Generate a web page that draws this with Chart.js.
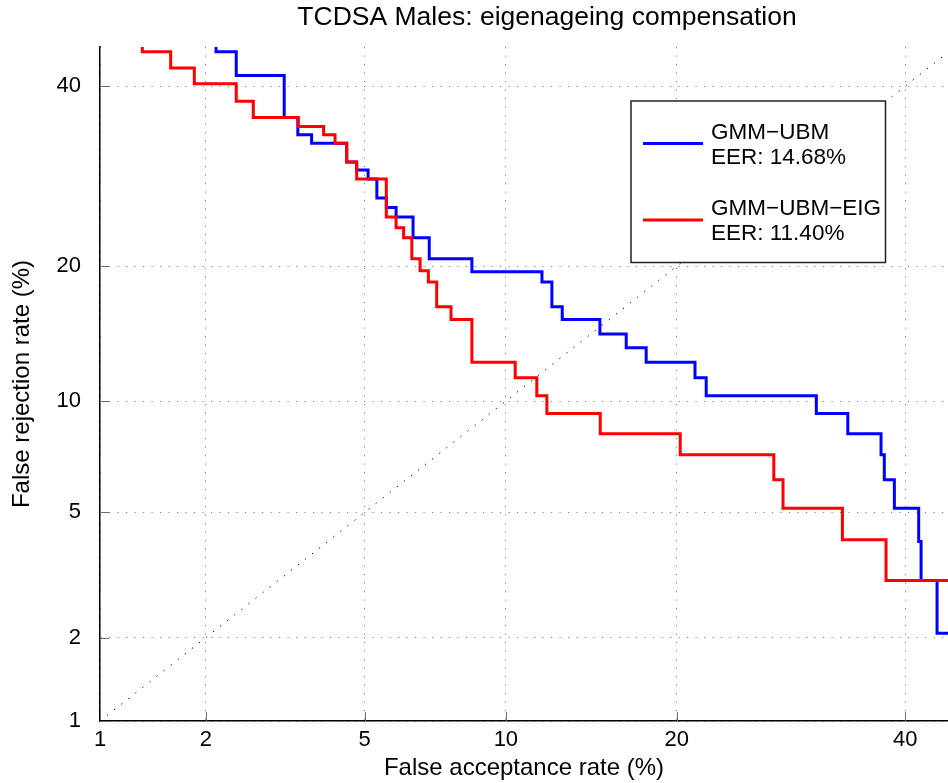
<!DOCTYPE html>
<html>
<head>
<meta charset="utf-8">
<title>TCDSA Males DET</title>
<script src="https://cdn.jsdelivr.net/npm/chart.js@4.4.1/dist/chart.umd.min.js"></script>
<style>
  html, body { margin: 0; padding: 0; background: #fff; overflow: hidden; }
  #wrap { width: 948px; height: 783px; }
</style>
</head>
<body>
<div id="wrap"><canvas id="det-chart" width="948" height="783"></canvas></div>
<script>
// tick positions on both axes (percent)
const tickValues = [1, 2, 5, 10, 20, 40];

// GMM-UBM : false acceptance (%) / false rejection (%) step corners
const ubmFa = [2.13, 2.13, 2.41, 3.20, 3.46, 3.74, 4.54, 4.79, 5.09, 5.33, 5.60, 5.89, 6.42, 6.96, 8.55,
  11.73, 12.24, 12.79, 14.93, 16.56, 17.87, 21.34, 22.19, 31.48, 34.41, 37.61, 37.93, 38.92, 41.34, 41.58, 43.19, 45];
const ubmFr = [45, 44.4, 41.35, 36.1, 34.0, 33.0, 30.8, 29.9, 28.9, 26.8, 25.8, 24.8, 22.7, 20.7, 19.5,
  18.6, 16.5, 15.5, 14.4, 13.4, 12.4, 11.4, 10.3, 9.3, 8.25, 7.26, 6.19, 5.14, 4.09, 3.09, 2.07, 2.07];

// GMM-UBM-EIG
const eigFa = [1.33, 1.33, 1.60, 1.86, 2.41, 2.67, 3.47, 4.00, 4.26, 4.54, 4.79, 5.60, 5.89, 6.12, 6.38,
  6.65, 6.93, 7.22, 7.74, 8.55, 10.43, 11.47, 11.98, 14.95, 20.25, 27.7, 28.5, 33.9, 38.1, 45];
const eigFr = [45, 44.4, 42.3, 40.3, 38.1, 36.1, 35.0, 34.0, 33.0, 30.8, 28.9, 24.8, 23.7, 22.7, 20.7,
  19.6, 18.6, 16.5, 15.5, 12.4, 11.4, 10.3, 9.3, 8.25, 7.26, 6.19, 5.14, 4.14, 3.09, 3.09];

const seriesNames = ["GMM\u2212UBM", "GMM\u2212UBM\u2212EIG"];
const eerValues = [14.68, 11.40];
const chartTitle = "TCDSA Males: eigenageing compensation";

// axis limits (percent)
const xRange = [1, 44.3];
const yRange = [1, 45];

// inverse normal CDF (Acklam)
function probit(p) {
  const a = [-3.969683028665376e+01, 2.209460984245205e+02, -2.759285104469687e+02,
    1.383577518672690e+02, -3.066479806614716e+01, 2.506628277459239e+00];
  const b = [-5.447609879822406e+01, 1.615858368580409e+02, -1.556989798598866e+02,
    6.680131188771972e+01, -1.328068155288572e+01];
  const c = [-7.784894002430293e-03, -3.223964580411365e-01, -2.400758277161838e+00,
    -2.549732539343734e+00, 4.374664141464968e+00, 2.938163982698783e+00];
  const d = [7.784695709041462e-03, 3.224671290700398e-01, 2.445134137142996e+00,
    3.754408661907416e+00];
  const pLow = 0.02425;
  if (p < pLow) {
    const q = Math.sqrt(-2 * Math.log(p));
    return (((((c[0] * q + c[1]) * q + c[2]) * q + c[3]) * q + c[4]) * q + c[5]) /
      ((((d[0] * q + d[1]) * q + d[2]) * q + d[3]) * q + 1);
  }
  if (p <= 1 - pLow) {
    const q = p - 0.5, r = q * q;
    return (((((a[0] * r + a[1]) * r + a[2]) * r + a[3]) * r + a[4]) * r + a[5]) * q /
      (((((b[0] * r + b[1]) * r + b[2]) * r + b[3]) * r + b[4]) * r + 1);
  }
  const q = Math.sqrt(-2 * Math.log(1 - p));
  return -(((((c[0] * q + c[1]) * q + c[2]) * q + c[3]) * q + c[4]) * q + c[5]) /
    ((((d[0] * q + d[1]) * q + d[2]) * q + d[3]) * q + 1);
}

// normal CDF, only used for pixel -> value
function normCdf(z) {
  const t = 1 / (1 + 0.2316419 * Math.abs(z));
  const poly = t * (0.319381530 + t * (-0.356563782 + t * (1.781477937 + t * (-1.821255978 + t * 1.330274429))));
  const tail = Math.exp(-z * z / 2) / Math.sqrt(2 * Math.PI) * poly;
  return z >= 0 ? 1 - tail : tail;
}

// normal-deviate axis used by DET plots
class ProbitScale extends Chart.LinearScale {
  configure() {
    super.configure();
    this._zMin = probit(this.min / 100);
    this._zMax = probit(this.max / 100);
  }
  getPixelForValue(value) {
    const z = probit(value / 100);
    return this.getPixelForDecimal((z - this._zMin) / (this._zMax - this._zMin));
  }
  getValueForPixel(pixel) {
    const z = this._zMin + this.getDecimalForPixel(pixel) * (this._zMax - this._zMin);
    return 100 * normCdf(z);
  }
}
ProbitScale.id = "probit";
ProbitScale.defaults = Chart.LinearScale.defaults;
Chart.register(ProbitScale);

Chart.defaults.font.family = "'Liberation Sans', Arial, Helvetica, sans-serif";
Chart.defaults.color = "#000";

function toPoints(xs, ys) {
  return xs.map((x, i) => ({ x: x, y: ys[i] }));
}

// title, inner tick marks and the boxed legend
const detDecorations = {
  id: "detDecorations",
  beforeDatasetsDraw(chart) {
    const { ctx, chartArea, scales } = chart;
    ctx.save();
    ctx.strokeStyle = "#6e6e6e";
    ctx.lineWidth = 1;
    ctx.beginPath();
    tickValues.forEach((v) => {
      const x = Math.round(scales.x.getPixelForValue(v)) + 0.5;
      ctx.moveTo(x, chartArea.bottom);
      ctx.lineTo(x, chartArea.bottom - 9);
      const y = Math.round(scales.y.getPixelForValue(v)) + 0.5;
      ctx.moveTo(chartArea.left, y);
      ctx.lineTo(chartArea.left + 9, y);
    });
    ctx.stroke();
    ctx.restore();
  },
  afterDraw(chart) {
    const ctx = chart.ctx;
    ctx.save();

    // title sits a bit right of the visible plot centre
    ctx.fillStyle = "#000";
    ctx.font = "26.5px 'Liberation Sans', Arial, sans-serif";
    ctx.textAlign = "center";
    ctx.textBaseline = "middle";
    ctx.fillText(chartTitle, 547, 18);

    const box = { left: 631, top: 101, right: 885.5, bottom: 262.5 };
    ctx.fillStyle = "#fff";
    ctx.fillRect(box.left, box.top, box.right - box.left, box.bottom - box.top);
    ctx.strokeStyle = "#222";
    ctx.lineWidth = 1.5;
    ctx.strokeRect(box.left, box.top, box.right - box.left, box.bottom - box.top);

    const entries = chart.data.datasets.filter((ds) => ds.eer !== undefined);
    entries.forEach((ds, i) => {
      const lineY = 143.5 + i * 76.5;
      ctx.strokeStyle = ds.borderColor;
      ctx.lineWidth = 3;
      ctx.beginPath();
      ctx.moveTo(643, lineY);
      ctx.lineTo(703, lineY);
      ctx.stroke();
      ctx.fillStyle = "#000";
      ctx.font = "22.5px 'Liberation Sans', Arial, sans-serif";
      ctx.textAlign = "left";
      ctx.textBaseline = "middle";
      ctx.fillText(ds.label, 711, lineY - 11);
      ctx.fillText("EER: " + ds.eer.toFixed(2) + "%", 711, lineY + 14);
    });
    ctx.restore();
  },
};

const axisGrid = {
  color: "rgba(0,0,0,0.5)",
  lineWidth: 1,
  drawTicks: false,
};
const axisBorder = {
  display: true,
  color: "#000",
  width: 1.5,
  dash: [1.2, 7.3],
};

new Chart(document.getElementById("det-chart"), {
  type: "line",
  data: {
    datasets: [
      {
        label: seriesNames[0],
        eer: eerValues[0],
        data: toPoints(ubmFa, ubmFr),
        borderColor: "#0000ff",
        borderWidth: 3,
        stepped: "before",
        pointRadius: 0,
        fill: false,
        order: 2,
      },
      {
        label: seriesNames[1],
        eer: eerValues[1],
        data: toPoints(eigFa, eigFr),
        borderColor: "#ff0000",
        borderWidth: 3,
        stepped: "before",
        pointRadius: 0,
        fill: false,
        order: 1,
      },
      {
        // equal error line
        label: "diagonal",
        data: [{ x: 1, y: 1 }, { x: 45, y: 45 }],
        borderColor: "#000",
        borderWidth: 1,
        borderDash: [1.3, 7.7],
        pointRadius: 0,
        fill: false,
        order: 3,
      },
    ],
  },
  options: {
    responsive: false,
    animation: false,
    events: [],
    layout: { padding: { top: 47 } },
    scales: {
      x: {
        type: "probit",
        position: "bottom",
        bounds: "data",
        min: xRange[0],
        max: xRange[1],
        afterBuildTicks: (axis) => {
          axis.ticks = tickValues.map((v) => ({ value: v }));
        },
        afterFit: (axis) => {
          axis.height = 62;
        },
        grid: axisGrid,
        border: axisBorder,
        ticks: {
          autoSkip: false,
          maxRotation: 0,
          padding: 6,
          font: { size: 22 },
          callback: (v) => String(v),
        },
        title: {
          display: true,
          text: "False acceptance rate (%)",
          font: { size: 24 },
          padding: { top: 0, bottom: 0 },
        },
      },
      y: {
        type: "probit",
        position: "left",
        bounds: "data",
        min: yRange[0],
        max: yRange[1],
        afterBuildTicks: (axis) => {
          axis.ticks = tickValues.map((v) => ({ value: v }));
        },
        afterFit: (axis) => {
          axis.width = 100;
        },
        grid: axisGrid,
        border: axisBorder,
        ticks: {
          autoSkip: false,
          padding: 19,
          font: { size: 22 },
          callback: (v) => String(v),
        },
        title: {
          display: true,
          text: "False rejection rate (%)",
          font: { size: 24 },
          padding: { top: 8, bottom: 0 },
        },
      },
    },
    plugins: {
      legend: { display: false },
      tooltip: { enabled: false },
      title: { display: false },
    },
  },
  plugins: [detDecorations],
});
</script>
</body>
</html>
